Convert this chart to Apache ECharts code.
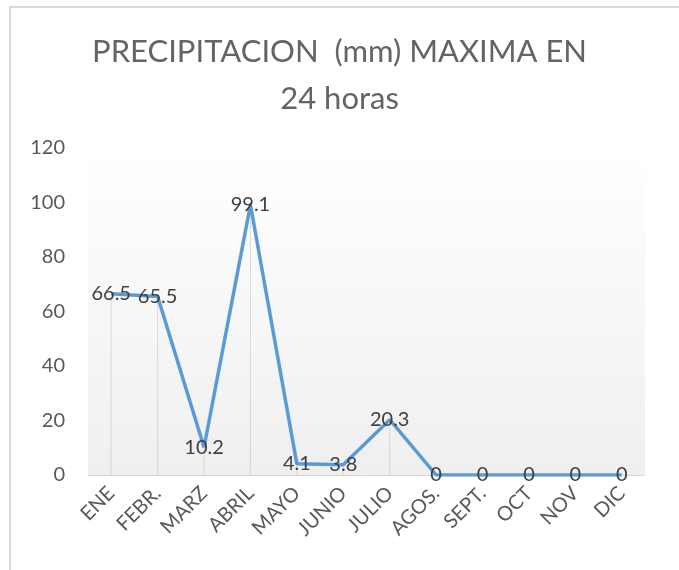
<!DOCTYPE html>
<html>
<head>
<meta charset="utf-8">
<script src="https://cdn.jsdelivr.net/npm/echarts@6/dist/echarts.min.js"></script>
<style>html,body{margin:0;padding:0;background:#fff}#c{width:679px;height:570px}</style>
</head>
<body>
<div id="c"></div>
<script>
const categories = ['ENE','FEBR.','MARZ','ABRIL','MAYO','JUNIO','JULIO','AGOS.','SEPT.','OCT','NOV','DIC'];
const values = [66.5, 65.5, 10.2, 99.1, 4.1, 3.8, 20.3, 0, 0, 0, 0, 0];
const yTicks = { min: 0, max: 120, interval: 20 };
const titleText = 'PRECIPITACION  (mm) MAXIMA EN\n24 horas';

const chart = echarts.init(document.getElementById('c'), null, { renderer: 'canvas' });
const font = 'Lato, "Open Sans", sans-serif';
chart.setOption({
  animation: false,
  backgroundColor: '#fff',
  graphic: [{
    type: 'rect', z: -10, silent: true,
    shape: { x: 10, y: 7, width: 720, height: 620 },
    style: { fill: 'none', stroke: '#d9d9d9', lineWidth: 2 }
  }],
  title: {
    text: titleText, left: 'center', top: 23,
    textStyle: { fontFamily: font, fontSize: 31, fontWeight: 'normal', color: '#646464', lineHeight: 47 }
  },
  grid: {
    left: 88, right: 34, top: 148, bottom: 95, show: true, borderWidth: 0,
    backgroundColor: {
      type: 'linear', x: 0, y: 0, x2: 0, y2: 1,
      colorStops: [{ offset: 0, color: '#ffffff' }, { offset: 1, color: '#efefef' }]
    }
  },
  xAxis: {
    type: 'category', data: categories, boundaryGap: true,
    axisLine: { lineStyle: { color: '#d9d9d9', width: 1 } },
    axisTick: { show: false },
    axisLabel: { rotate: 45, interval: 0, margin: 15, fontFamily: font, fontSize: 20, color: '#595959' }
  },
  yAxis: {
    type: 'value', min: yTicks.min, max: yTicks.max, interval: yTicks.interval,
    axisLine: { show: false }, axisTick: { show: false },
    splitLine: { show: false },
    axisLabel: { margin: 23, fontFamily: font, fontSize: 20, color: '#595959' }
  },
  series: [{
    type: 'bar', data: values, barWidth: 1, silent: true,
    itemStyle: { color: '#d9d9d9' }, z: 1
  }, {
    type: 'line', data: values, showSymbol: true, symbol: 'circle', symbolSize: 0, z: 3,
    itemStyle: { color: '#5b9bd5' },
    lineStyle: { color: '#5b9bd5', width: 3.5 },
    label: { show: true, position: 'inside', fontFamily: font, fontSize: 20, color: '#404040' },
    labelLayout: { hideOverlap: false }
  }]
});
</script>
</body>
</html>
